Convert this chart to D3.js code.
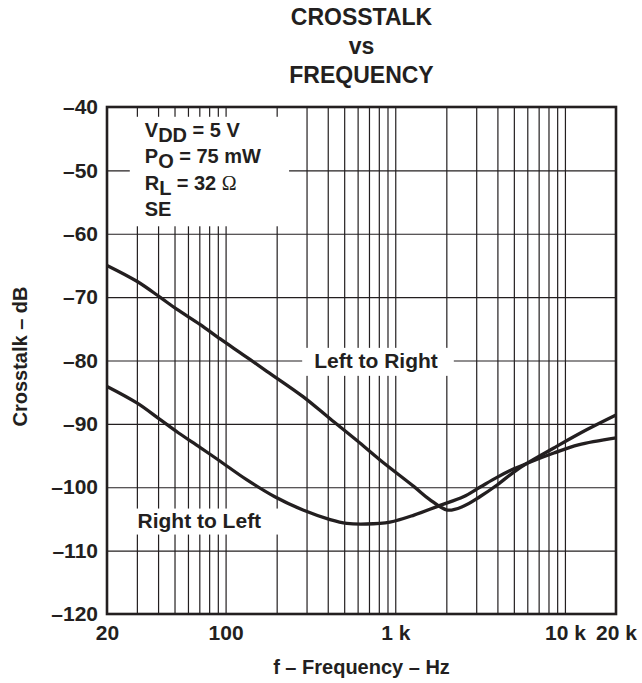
<!DOCTYPE html>
<meta charset="utf-8">
<title>Crosstalk vs Frequency</title>
<style>
body { margin: 0; background: #fff; }
svg text { font-family: "Liberation Sans", Arial, sans-serif; font-weight: bold; fill: #231f20; }
.grid line { stroke: #231f20; stroke-width: 1.2; }
.grid path { display: none; }
.axis path, .axis line { display: none; }
</style>
<body>
<script src="https://d3js.org/d3.v7.min.js"></script>
<script>

var width = 642,
    height = 683;
var margin = {top: 107, right: 26, bottom: 69, left: 107};
var w = width - margin.left - margin.right,
    h = height - margin.top - margin.bottom;

// curves (Hz, dB)
var freqLeftToRight = [20, 30, 41, 51.5, 70.6, 93, 127, 175, 286, 413, 592, 813, 1290, 1590, 2030, 2520, 3150, 4000, 5000, 6000, 8600, 13500, 20000];
var dbLeftToRight   = [-65.0, -67.5, -70.0, -71.9, -74.3, -76.6, -79.1, -81.7, -85.7, -89.2, -92.6, -95.7, -99.9, -101.9, -103.6, -103.0, -101.5, -99.6, -97.6, -96.2, -93.8, -90.9, -88.6];

var freqRightToLeft = [20, 30, 41, 52.6, 70.6, 93, 133, 195, 286, 413, 518, 676, 930, 1290, 1820, 2520, 3150, 4000, 5000, 6000, 8600, 12000, 20000];
var dbRightToLeft   = [-84.1, -86.7, -89.3, -91.4, -93.7, -95.9, -98.8, -101.5, -103.6, -105.1, -105.7, -105.8, -105.5, -104.4, -102.9, -101.5, -100.0, -98.4, -97.1, -96.2, -94.6, -93.3, -92.2];

var yTicks = [-40, -50, -60, -70, -80, -90, -100, -110, -120];
var xLabelTicks = [20, 100, 1000, 10000, 20000];
var xLabelText = ["20", "100", "1 k", "10 k", "20 k"];

var titleLines = ["CROSSTALK", "vs", "FREQUENCY"];

var svg = d3.select("body").append("svg")
    .attr("width", width)
    .attr("height", height);

var g = svg.append("g")
    .attr("transform", "translate(" + margin.left + "," + margin.top + ")");

var x = d3.scaleLog().domain([20, 20000]).range([0, w]);
var y = d3.scaleLinear().domain([-120, -40]).range([h, 0]);

// grid
g.append("g").attr("class", "grid")
    .attr("transform", "translate(0," + h + ")")
    .call(d3.axisBottom(x).tickValues(x.ticks().filter(function(d){ return d > 20 && d < 20000; }))
        .tickSize(-h).tickFormat(""));

g.append("g").attr("class", "grid")
    .call(d3.axisLeft(y).tickValues(yTicks.slice(1, -1)).tickSize(-w).tickFormat(""));

// annotations with white backing boxes
var notes = g.append("g");

function backBox(sel, pad) {
    var b = sel.node().getBBox();
    notes.insert("rect", ":first-child")
        .attr("x", b.x - pad[0])
        .attr("y", b.y - pad[2])
        .attr("width", b.width + pad[0] + pad[1])
        .attr("height", b.height + pad[2] + pad[3])
        .attr("fill", "#fff");
}

var legend = notes.append("g");
var lx = x(33.4), ly = y(-44.7), lstep = 26.5;

var l1 = legend.append("text").attr("x", lx).attr("y", ly).style("font-size", "20px");
l1.append("tspan").text("V");
l1.append("tspan").attr("dy", 5).text("DD");
l1.append("tspan").attr("dy", -5).text(" = 5 V");

var l2 = legend.append("text").attr("x", lx).attr("y", ly + lstep).style("font-size", "20px");
l2.append("tspan").text("P");
l2.append("tspan").attr("dy", 5).text("O");
l2.append("tspan").attr("dy", -5).text(" = 75 mW");

var l3 = legend.append("text").attr("x", lx).attr("y", ly + 2 * lstep).style("font-size", "20px");
l3.append("tspan").text("R");
l3.append("tspan").attr("dy", 5).text("L");
l3.append("tspan").attr("dy", -5).text(" = 32 ");
l3.append("tspan").style("font-family", "'Liberation Serif', 'DejaVu Serif', serif")
    .style("font-weight", "normal").text("\u03A9");

legend.append("text").attr("x", lx).attr("y", ly + 3 * lstep).style("font-size", "20px").text("SE");

backBox(legend, [15, 28, 2, 6]);

var ltr = notes.append("text")
    .attr("x", x(770)).attr("y", y(-80)).attr("dy", "0.35em")
    .attr("text-anchor", "middle").style("font-size", "21px")
    .text("Left to Right");
backBox(ltr, [12, 16, 1, 4]);

var rtl = notes.append("text")
    .attr("x", x(70)).attr("y", y(-105.2)).attr("dy", "0.35em")
    .attr("text-anchor", "middle").style("font-size", "21px")
    .text("Right to Left");
backBox(rtl, [27, 22, 0, 3]);

// curves
var line = d3.line()
    .x(function(d){ return x(d[0]); })
    .y(function(d){ return y(d[1]); })
    .curve(d3.curveCatmullRom.alpha(0.5));

[[freqLeftToRight, dbLeftToRight], [freqRightToLeft, dbRightToLeft]].forEach(function(s){
    g.append("path")
        .datum(d3.zip(s[0], s[1]))
        .attr("d", line)
        .attr("fill", "none")
        .attr("stroke", "#231f20")
        .attr("stroke-width", 3.3)
        .attr("stroke-linejoin", "round");
});

// frame
g.append("rect")
    .attr("width", w).attr("height", h)
    .attr("fill", "none")
    .attr("stroke", "#231f20")
    .attr("stroke-width", 2.6);

// axes labels
g.append("g").attr("class", "axis")
    .call(d3.axisLeft(y).tickValues(yTicks).tickSize(0).tickPadding(9)
        .tickFormat(function(d){ return "\u2013" + Math.abs(d); }))
    .selectAll("text").style("font-size", "21px");

g.append("g").attr("class", "axis")
    .attr("transform", "translate(0," + h + ")")
    .call(d3.axisBottom(x).tickValues(xLabelTicks).tickSize(0).tickPadding(11)
        .tickFormat(function(d, i){ return xLabelText[i]; }))
    .selectAll("text").style("font-size", "21px");

g.selectAll(".axis text").attr("fill", null);

// titles
svg.selectAll(".title")
    .data(titleLines)
    .enter().append("text")
    .attr("class", "title")
    .attr("x", margin.left + w / 2)
    .attr("y", function(d, i){ return 25 + i * 29; })
    .attr("text-anchor", "middle")
    .style("font-size", "23px")
    .text(function(d){ return d; });

svg.append("text")
    .attr("x", margin.left + w / 2)
    .attr("y", 674)
    .attr("text-anchor", "middle")
    .style("font-size", "20px")
    .text("f \u2013 Frequency \u2013 Hz");

svg.append("text")
    .attr("transform", "translate(27," + (margin.top + h / 2 - 4) + ") rotate(-90)")
    .attr("text-anchor", "middle")
    .style("font-size", "20px")
    .text("Crosstalk \u2013 dB");

</script>
